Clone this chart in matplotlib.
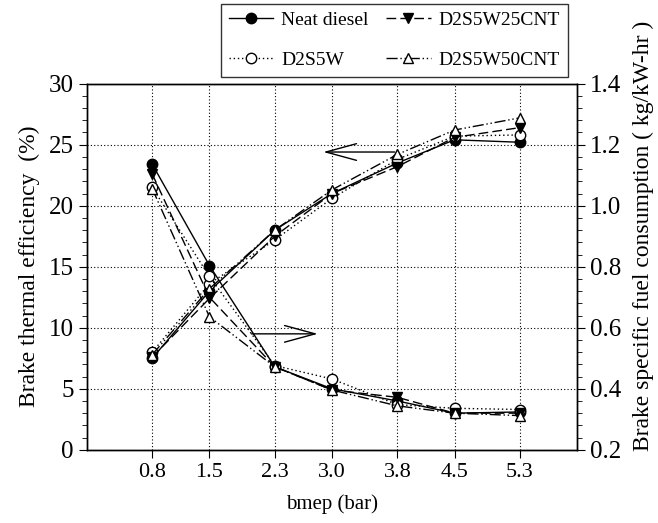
import matplotlib.pyplot as plt
from matplotlib.lines import Line2D

plt.rcParams['font.family'] = ['Liberation Serif', 'DejaVu Serif']
plt.rcParams['mathtext.fontset'] = 'stix'

# engine load points
bmep = [0.8, 1.5, 2.3, 3.0, 3.8, 4.5, 5.3]

# brake thermal efficiency (%)
bte_neat = [7.5, 13.0, 18.0, 21.0, 23.5, 25.4, 25.2]
bte_d2s5w = [8.0, 13.6, 17.2, 20.6, 23.8, 25.7, 25.8]
bte_25cnt = [7.6, 12.4, 17.5, 21.0, 23.2, 25.6, 26.4]
bte_50cnt = [7.8, 13.2, 18.0, 21.3, 24.2, 26.2, 27.2]

# brake specific fuel consumption (kg/kW-hr)
bsfc_neat = [1.136, 0.804, 0.472, 0.400, 0.360, 0.320, 0.324]
bsfc_d2s5w = [1.060, 0.768, 0.476, 0.432, 0.348, 0.336, 0.332]
bsfc_25cnt = [1.104, 0.700, 0.472, 0.396, 0.372, 0.320, 0.320]
bsfc_50cnt = [1.056, 0.636, 0.472, 0.396, 0.344, 0.320, 0.312]

labels = ['Neat diesel', 'D2S5W', 'D2S5W25CNT', 'D2S5W50CNT']
styles = [
    dict(ls='-', marker='o', mfc='black'),
    dict(ls=(0, (1, 2)), marker='o', mfc='white'),
    dict(ls=(0, (7, 3)), marker='v', mfc='black'),
    dict(ls=(0, (8, 2, 1, 2, 1, 2)), marker='^', mfc='white'),
]

fig = plt.figure(figsize=(6.58, 5.23), dpi=100)
ax = fig.add_axes([0.132, 0.140, 0.745, 0.700])
ax2 = ax.twinx()

for y, st in zip([bte_neat, bte_d2s5w, bte_25cnt, bte_50cnt], styles):
    ax.plot(bmep, y, color='black', lw=1.0, ms=7.5, mec='black', **st)
for y, st in zip([bsfc_neat, bsfc_d2s5w, bsfc_25cnt, bsfc_50cnt], styles):
    ax2.plot(bmep, y, color='black', lw=1.0, ms=7.5, mec='black', **st)

ax.set_xlim(0, 6)
ax.set_ylim(0, 30)
ax2.set_ylim(0.2, 1.4)
ax.set_xticks(bmep)
ax.set_xticklabels([f'{v:.1f}' for v in bmep])
ax.set_yticks(range(0, 31, 5))
ax.set_yticks(range(0, 31, 1), minor=True)
ax2.set_yticks([0.2, 0.4, 0.6, 0.8, 1.0, 1.2, 1.4])
ax2.set_yticklabels(['0.2', '0.4', '0.6', '0.8', '1.0', '1.2', '1.4'])
ax2.set_yticks([0.2 + 0.04 * i for i in range(31)], minor=True)

ax.grid(True, which='major', color='black', ls=(0, (1, 2)), lw=0.8)
ax.tick_params(axis='y', which='major', labelsize=18, direction='out', length=6)
ax.tick_params(axis='x', which='major', labelsize=16, direction='out', length=6)
ax.tick_params(axis='y', which='minor', direction='out', length=3.5)
ax2.tick_params(axis='y', which='major', labelsize=18, direction='out', length=6)
ax2.tick_params(axis='y', which='minor', direction='out', length=3.5)
for a in (ax, ax2):
    for s in a.spines.values():
        s.set_linewidth(1.0)

ax.set_xlabel('bmep (bar)', fontsize=15, labelpad=9)
ax.set_ylabel('Brake thermal efficiency  (%)', fontsize=17, labelpad=6)
fig.text(0.978, 0.138, 'Brake specific fuel consumption ( kg/kW-hr )',
         rotation=90, ha='center', va='bottom', fontsize=17)

# arrows pointing to the axis each curve group belongs to
arrow = dict(arrowstyle='->,head_length=2.2,head_width=0.6', color='black', lw=1.0)
ax.annotate('', xy=(2.86, 24.4), xytext=(3.8, 24.4), arrowprops=arrow)
ax.annotate('', xy=(2.86, 9.5), xytext=(1.98, 9.5), arrowprops=arrow)

handles = [Line2D([], [], color='black', lw=1.0, ms=7.5, mec='black', **st) for st in styles]
leg = fig.legend(handles, labels, loc='upper center', bbox_to_anchor=(0.599, 0.993),
                 ncol=2, fontsize=14, frameon=True, fancybox=False, edgecolor='black',
                 handlelength=2.3, columnspacing=0.9, handletextpad=0.4,
                 borderpad=0.4, labelspacing=1.15, borderaxespad=0)
leg.get_frame().set_linewidth(1.0)

fig.savefig('out.png', dpi=100)
